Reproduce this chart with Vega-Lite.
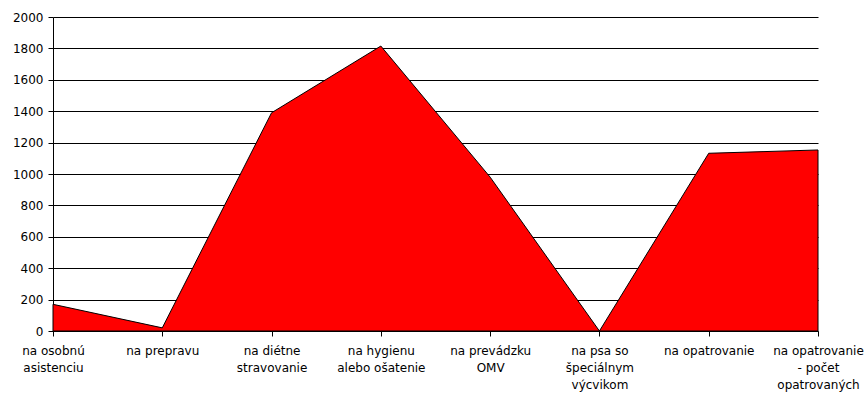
{
  "$schema": "https://vega.github.io/schema/vega-lite/v6.json",
  "autosize": "none",
  "width": 765,
  "height": 314,
  "padding": {"left": 53, "top": 17, "right": 48, "bottom": 69},
  "background": "white",
  "config": {
    "view": {"stroke": null},
    "font": "DejaVu Sans",
    "axis": {"labelFont": "DejaVu Sans", "labelFontSize": 12, "labelColor": "black", "domainColor": "black", "tickColor": "black", "gridColor": "black", "gridOpacity": 1}
  },
  "data": {
    "values": [
      {"kategoria": "na osobnú asistenciu", "hodnota": 170},
      {"kategoria": "na prepravu", "hodnota": 20},
      {"kategoria": "na diétne stravovanie", "hodnota": 1390},
      {"kategoria": "na hygienu alebo ošatenie", "hodnota": 1815},
      {"kategoria": "na prevádzku OMV", "hodnota": 980},
      {"kategoria": "na psa so špeciálnym výcvikom", "hodnota": 0},
      {"kategoria": "na opatrovanie", "hodnota": 1132},
      {"kategoria": "na opatrovanie - počet opatrovaných", "hodnota": 1153}
    ]
  },
  "mark": {"type": "area", "color": "#FF0000", "stroke": "black", "strokeWidth": 1, "opacity": 1},
  "encoding": {
    "x": {
      "field": "kategoria", "type": "ordinal", "sort": null,
      "scale": {"type": "point", "padding": 0},
      "axis": {
        "title": null, "labelAngle": 0, "tickSize": 5, "labelPadding": 9,
        "labelLineHeight": 17, "labelBaseline": "top",
        "labelExpr": "datum.value == 'na osobnú asistenciu' ? ['na osobnú','asistenciu'] : datum.value == 'na diétne stravovanie' ? ['na diétne','stravovanie'] : datum.value == 'na hygienu alebo ošatenie' ? ['na hygienu','alebo ošatenie'] : datum.value == 'na prevádzku OMV' ? ['na prevádzku','OMV'] : datum.value == 'na psa so špeciálnym výcvikom' ? ['na psa so','špeciálnym','výcvikom'] : datum.value == 'na opatrovanie - počet opatrovaných' ? ['na opatrovanie','- počet','opatrovaných'] : datum.value",
        "labelOverlap": false, "grid": false
      }
    },
    "y": {
      "field": "hodnota", "type": "quantitative",
      "scale": {"domain": [0, 2000], "nice": false},
      "axis": {"title": null, "format": "d", "values": [0,200,400,600,800,1000,1200,1400,1600,1800,2000], "tickSize": 5, "labelPadding": 5, "grid": true, "gridColor": "black"}
    }
  }
}
